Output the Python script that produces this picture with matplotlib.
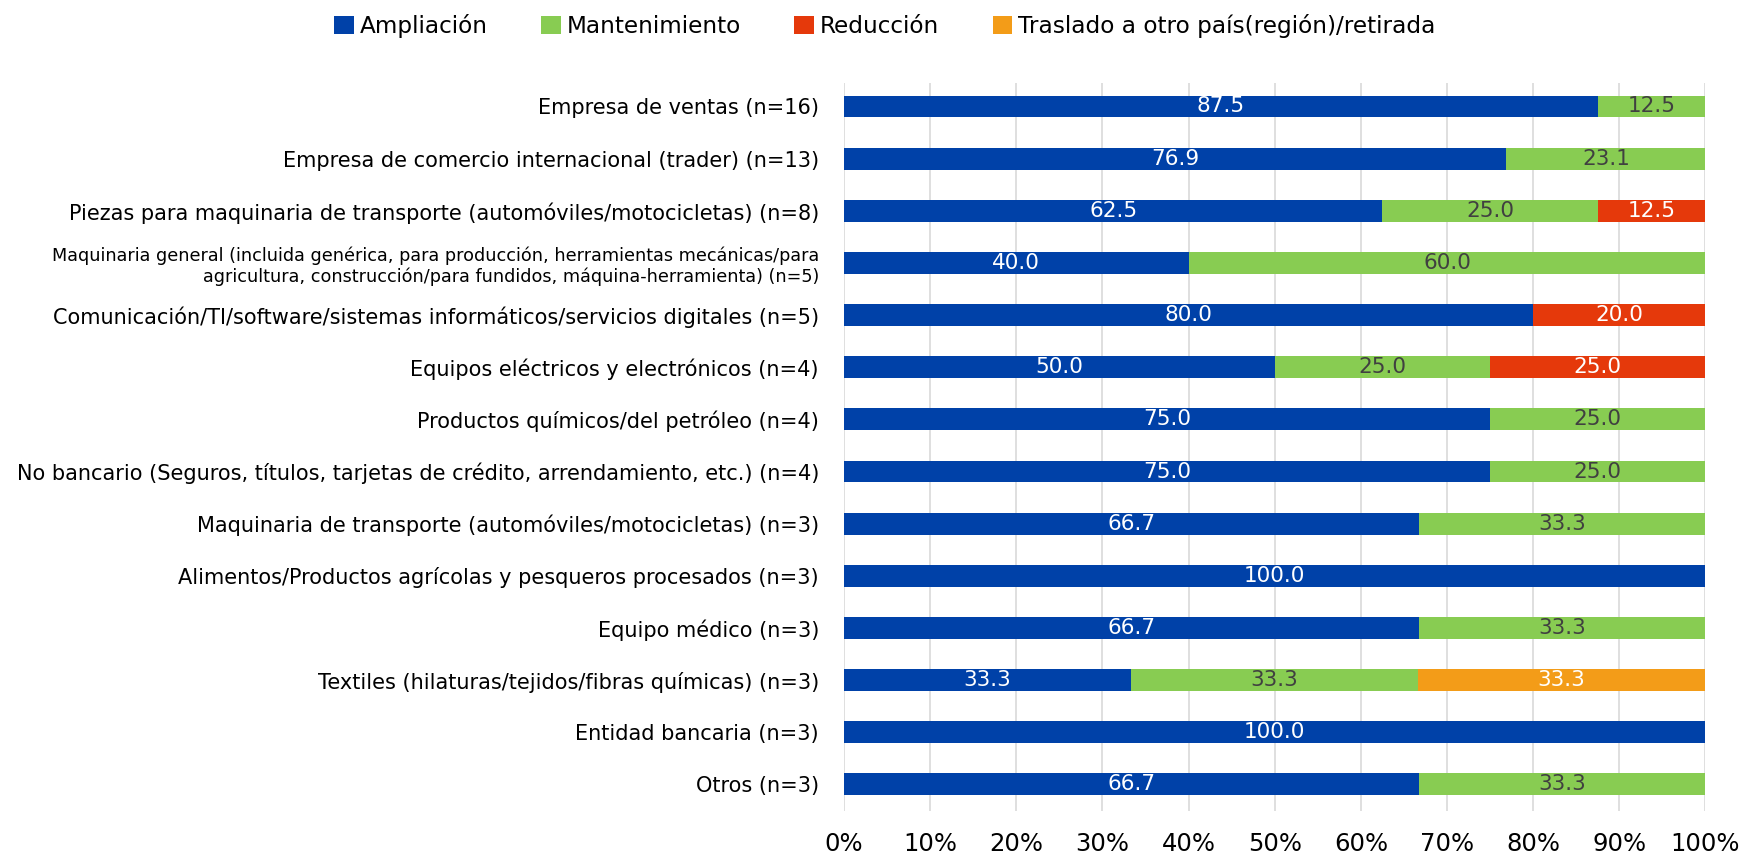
import matplotlib
matplotlib.use('Agg')
import matplotlib.pyplot as plt
import numpy as np

categories = [
    'Empresa de ventas (n=16)',
    'Empresa de comercio internacional (trader) (n=13)',
    'Piezas para maquinaria de transporte (automóviles/motocicletas) (n=8)',
    'Maquinaria general (incluida genérica, para producción, herramientas mecánicas/para\n'
    'agricultura, construcción/para fundidos, máquina-herramienta) (n=5)',
    'Comunicación/TI/software/sistemas informáticos/servicios digitales (n=5)',
    'Equipos eléctricos y electrónicos (n=4)',
    'Productos químicos/del petróleo (n=4)',
    'No bancario (Seguros, títulos, tarjetas de crédito, arrendamiento, etc.) (n=4)',
    'Maquinaria de transporte (automóviles/motocicletas) (n=3)',
    'Alimentos/Productos agrícolas y pesqueros procesados (n=3)',
    'Equipo médico (n=3)',
    'Textiles (hilaturas/tejidos/fibras químicas) (n=3)',
    'Entidad bancaria (n=3)',
    'Otros (n=3)',
]
series_names = ['Ampliación', 'Mantenimiento', 'Reducción',
                'Traslado a otro país(región)/retirada']
ampliacion = [87.5, 76.9, 62.5, 40.0, 80.0, 50.0, 75.0, 75.0, 66.7, 100.0, 66.7, 33.3, 100.0, 66.7]
mantenimiento = [12.5, 23.1, 25.0, 60.0, 0, 25.0, 25.0, 25.0, 33.3, 0, 33.3, 33.3, 0, 33.3]
reduccion = [0, 0, 12.5, 0, 20.0, 25.0, 0, 0, 0, 0, 0, 0, 0, 0]
traslado = [0, 0, 0, 0, 0, 0, 0, 0, 0, 0, 0, 33.3, 0, 0]
xticks = [0, 10, 20, 30, 40, 50, 60, 70, 80, 90, 100]

colors = ['#0041A8', '#88CC52', '#E5390B', '#F39C18']
text_colors = ['white', '#404040', 'white', 'white']

fig = plt.figure(figsize=(17.42, 8.56), dpi=100)
ax = fig.add_axes([0.4845, 0.052, 0.4945, 0.851])

y = np.arange(len(categories))
left = np.zeros(len(categories))
handles = []
for vals, name, c, tc in zip([ampliacion, mantenimiento, reduccion, traslado],
                             series_names, colors, text_colors):
    vals = np.array(vals)
    b = ax.barh(y, vals, left=left, height=0.42, color=c, label=name, zorder=3)
    handles.append(b)
    for yi, v, l in zip(y, vals, left):
        if v > 0:
            ax.text(l + v / 2, yi, f'{v:.1f}', ha='center', va='center',
                    color=tc, fontsize=15.5, zorder=4)
    left += vals

ax.set_xlim(0, 100)
ax.set_ylim(len(categories) - 0.48, -0.45)
ax.set_xticks(xticks)
ax.set_xticklabels([f'{t}%' for t in xticks], fontsize=17.5)
ax.set_yticks(y)
ax.set_yticklabels(categories, fontsize=15)
for i, lab in enumerate(ax.get_yticklabels()):
    if i == 3:
        lab.set_fontsize(12.7)
ax.tick_params(axis='both', length=0)
ax.tick_params(axis='x', pad=15)
ax.tick_params(axis='y', pad=18)
ax.xaxis.grid(True, color='#D9D9D9', linewidth=1.2, zorder=0)
for s in ax.spines.values():
    s.set_visible(False)

fig.legend(handles=handles, labels=series_names, loc='upper center',
           bbox_to_anchor=(0.508, 1.008), ncol=4, frameon=False, fontsize=16.7,
           handlelength=0.85, handleheight=0.85, handletextpad=0.25, columnspacing=2.3)

fig.savefig('out.png', dpi=100)
